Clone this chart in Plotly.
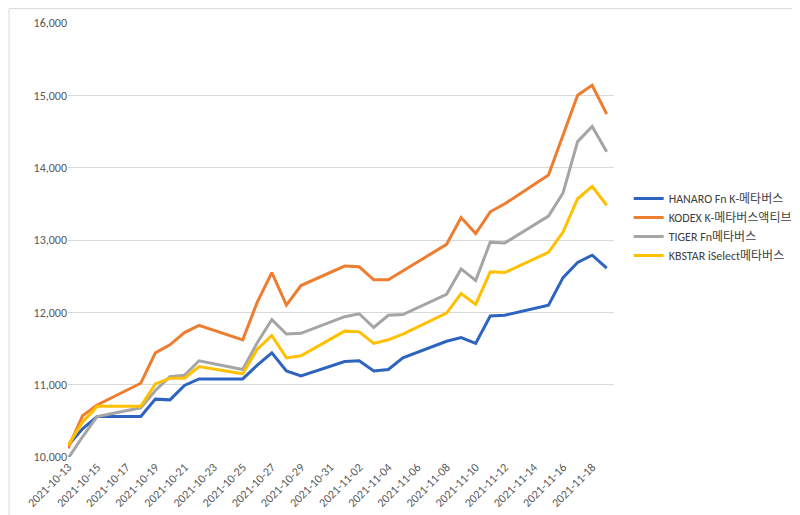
import plotly.graph_objects as go

dates = ["2021-10-13", "2021-10-14", "2021-10-15", "2021-10-18", "2021-10-19", "2021-10-20",
         "2021-10-21", "2021-10-22", "2021-10-25", "2021-10-26", "2021-10-27", "2021-10-28",
         "2021-10-29", "2021-11-01", "2021-11-02", "2021-11-03", "2021-11-04", "2021-11-05",
         "2021-11-08", "2021-11-09", "2021-11-10", "2021-11-11", "2021-11-12", "2021-11-15",
         "2021-11-16", "2021-11-17", "2021-11-18", "2021-11-19"]

hanaro = [10160, 10390, 10560, 10560, 10800, 10790, 10990, 11080, 11080, 11270, 11440, 11190,
          11120, 11320, 11330, 11190, 11210, 11370, 11600, 11650, 11570, 11950, 11960, 12100,
          12480, 12690, 12790, 12610]
kodex = [10120, 10570, 10720, 11020, 11440, 11550, 11720, 11820, 11620, 12140, 12550, 12100,
         12370, 12640, 12630, 12450, 12450, 12570, 12940, 13310, 13090, 13390, 13500, 13900,
         14450, 15000, 15140, 14740]
tiger = [9980, 10280, 10560, 10680, 10920, 11110, 11130, 11330, 11210, 11580, 11900, 11700,
         11710, 11940, 11980, 11790, 11960, 11970, 12250, 12600, 12440, 12970, 12960, 13330,
         13650, 14360, 14570, 14220]
kbstar = [10160, 10480, 10700, 10700, 11010, 11090, 11090, 11250, 11150, 11490, 11680, 11370,
          11400, 11740, 11730, 11570, 11620, 11700, 11990, 12260, 12110, 12560, 12550, 12830,
          13110, 13570, 13740, 13480]

tick_dates = ["2021-10-13", "2021-10-15", "2021-10-17", "2021-10-19", "2021-10-21", "2021-10-23",
              "2021-10-25", "2021-10-27", "2021-10-29", "2021-10-31", "2021-11-02", "2021-11-04",
              "2021-11-06", "2021-11-08", "2021-11-10", "2021-11-12", "2021-11-14", "2021-11-16",
              "2021-11-18"]

series = [
    ("HANARO Fn K-메타버스", hanaro, "#2E64C0"),
    ("KODEX K-메타버스액티브", kodex, "#ED7D31"),
    ("TIGER Fn메타버스", tiger, "#A5A5A5"),
    ("KBSTAR iSelect메타버스", kbstar, "#FFC000"),
]

fig = go.Figure()
for name, vals, color in series:
    fig.add_trace(go.Scatter(x=dates, y=vals, mode="lines", name=name,
                             line=dict(color=color, width=3)))

fig.update_layout(
    width=800, height=515,
    margin=dict(l=60, r=193, t=15, b=66),
    plot_bgcolor="white", paper_bgcolor="white",
    font=dict(family="Calibri, Liberation Sans, Noto Sans CJK KR", size=12, color="#595959"),
    showlegend=True,
    legend=dict(x=1.025, y=0.53, yanchor="middle", xanchor="left",
                font=dict(size=12, color="#404040"), tracegroupgap=4),
    xaxis=dict(range=["2021-10-13", "2021-11-19 12:00"], tickvals=tick_dates, ticktext=tick_dates,
               tickangle=-45, showgrid=False, showline=False, zeroline=False, automargin=False),
    yaxis=dict(range=[10000, 16000], dtick=1000, tickformat=",", gridcolor="#D9D9D9",
               zeroline=False, showline=False, ticks="", automargin=False),
    shapes=[dict(type="rect", xref="paper", yref="paper", x0=-0.108, x1=1.351, y0=-0.146, y1=1.033,
                 line=dict(color="#D9D9D9", width=1))],
)

fig.write_html("out.html")
